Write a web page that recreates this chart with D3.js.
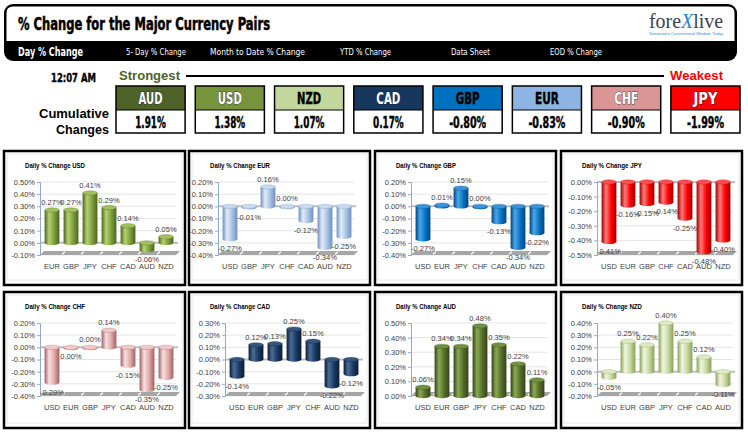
<!DOCTYPE html>
<html><head><meta charset="utf-8">
<script src="https://cdn.jsdelivr.net/npm/d3@7"></script>
<style>body{margin:0;background:#fff}svg{display:block}</style>
</head><body><svg id="c" width="748" height="434"></svg>
<script>
// ---------------- DATA ----------------
const pageTitle = "% Change for the Major Currency Pairs";
const navItems = ["Day % Change","5- Day % Change","Month to Date % Change","YTD % Change","Data Sheet","EOD % Change"];
const timeStamp = "12:07 AM";
const strengthCurrencies = ["AUD","USD","NZD","CAD","GBP","EUR","CHF","JPY"];
const cumulativeChanges = [1.91,1.38,1.07,0.17,-0.80,-0.83,-0.90,-1.99];

const panelBases = ["USD","EUR","GBP","JPY","CHF","CAD","AUD","NZD"];
const panelCategories = [
  ["EUR","GBP","JPY","CHF","CAD","AUD","NZD"],
  ["USD","GBP","JPY","CHF","CAD","AUD","NZD"],
  ["USD","EUR","JPY","CHF","CAD","AUD","NZD"],
  ["USD","EUR","GBP","CHF","CAD","AUD","NZD"],
  ["USD","EUR","GBP","JPY","CAD","AUD","NZD"],
  ["USD","EUR","GBP","JPY","CHF","AUD","NZD"],
  ["USD","EUR","GBP","JPY","CHF","CAD","NZD"],
  ["USD","EUR","GBP","JPY","CHF","CAD","AUD"]
];
const usdValues = [0.27,0.27,0.41,0.29,0.14,-0.06,0.05];
const eurValues = [-0.27,-0.01,0.16,0.00,-0.12,-0.34,-0.25];
const gbpValues = [-0.27,0.01,0.15,0.00,-0.13,-0.34,-0.22];
const jpyValues = [-0.41,-0.16,-0.15,-0.14,-0.25,-0.48,-0.40];
const chfValues = [-0.29,-0.001,0.00,0.14,-0.15,-0.35,-0.25];
const cadValues = [-0.14,0.12,0.13,0.25,0.15,-0.22,-0.12];
const audValues = [0.06,0.34,0.34,0.48,0.35,0.22,0.11];
const nzdValues = [-0.05,0.25,0.22,0.40,0.25,0.12,-0.11];
const panelValues = [usdValues,eurValues,gbpValues,jpyValues,chfValues,cadValues,audValues,nzdValues];
const tickMin = [-0.1,-0.4,-0.4,-0.5,-0.4,-0.3,0.0,-0.2];
const tickMax = [0.5,0.2,0.2,0.0,0.2,0.3,0.5,0.4];

// ---------------- STYLES / LAYOUT ----------------
const boxStyle = {
  AUD:{fill:"#4F6228",text:"#fff"}, USD:{fill:"#77933C",text:"#fff"},
  NZD:{fill:"#C3D69B",text:"#000"}, CAD:{fill:"#17375E",text:"#fff"},
  GBP:{fill:"#0070C0",text:"#000"}, EUR:{fill:"#8DB4E2",text:"#000"},
  CHF:{fill:"#D99694",text:"#fff"}, JPY:{fill:"#FF0000",text:"#fff"}
};
const barPalette = { // dark edge, highlight, mid, cap
  USD:["#4A6420","#B5D36E","#7F9F3E","#A3C060"],
  EUR:["#6F8FBF","#E2ECF8","#A8C2E4","#C9DAEF"],
  GBP:["#00467F","#4AA8EC","#0A72C0","#3C92D8"],
  JPY:["#A00000","#FF7A7A","#FF0000","#FF5050"],
  CHF:["#A06060","#F8E0E0","#E2AAAA","#EFC8C8"],
  CAD:["#0B1C33","#4A6C98","#1A3A63","#34557F"],
  AUD:["#33431A","#8AAA52","#566F2C","#73903F"],
  NZD:["#8AA05A","#F0F6E2","#C8DAA0","#DFEAC4"]
};
const panelLeft = [4,189,375,561];
const panelTop = [151,292];
const panelW = 181, panelH = [134,136];
const axisOffset = [36,29,36,36,36,36,36,36];
const condensed = "'Liberation Sans Narrow','DejaVu Sans Condensed','Roboto Condensed','Liberation Sans',sans-serif";
const sans = "'Liberation Sans','Arial',sans-serif";

const svg = d3.select("#c");
const defs = svg.append("defs");

// ---------------- HEADER ----------------
svg.append("rect").attr("x",4).attr("y",4).attr("width",733).attr("height",57).attr("rx",9).attr("fill","#000");
svg.append("path").attr("d","M6.5 41 V13 Q6.5 6.5 13 6.5 H728 Q734.5 6.5 734.5 13 V41 Z").attr("fill","#fff");
svg.append("text").attr("x",18).attr("y",29.5).text(pageTitle)
  .attr("font-family",condensed).attr("font-weight","bold").attr("font-size",17)
  .attr("stroke","#000").attr("stroke-width",0.5)
  .attr("textLength",252).attr("lengthAdjust","spacingAndGlyphs").attr("fill","#000");

const navX = [18,126,210,340,451,550], navW = [65,60,95,51,39,52];
svg.selectAll("text.nav").data(navItems).join("text").attr("class","nav")
  .attr("x",(d,i)=>navX[i]).attr("y",(d,i)=>i===0?55.5:54.5)
  .attr("font-family",condensed).attr("font-size",(d,i)=>i===0?11.5:9)
  .attr("font-weight",(d,i)=>i===0?"bold":"normal")
  .attr("textLength",(d,i)=>navW[i]).attr("lengthAdjust","spacingAndGlyphs")
  .attr("fill","#fff").text(d=>d);

// logo
const logo = svg.append("text").attr("x",649).attr("y",28).attr("font-family","'Liberation Serif','DejaVu Serif',serif")
  .attr("font-size",20).attr("fill","#3E3E4E").attr("textLength",74).attr("lengthAdjust","spacingAndGlyphs");
logo.append("tspan").text("fore");
logo.append("tspan").attr("fill","#1E88D0").attr("font-style","italic").text("X");
logo.append("tspan").text("live");
svg.append("text").attr("x",649).attr("y",35).attr("font-family",sans).attr("font-size",3.6)
  .attr("fill","#2E8FD6").attr("textLength",74).attr("lengthAdjust","spacingAndGlyphs")
  .text("Tomorrow's Conventional Wisdom Today");

// ---------------- STRENGTH ROW ----------------
svg.append("text").attr("x",51).attr("y",82).attr("font-family",condensed).attr("font-weight","bold")
  .attr("font-size",13).attr("stroke","#000").attr("stroke-width",0.4)
  .attr("textLength",45).attr("lengthAdjust","spacingAndGlyphs").text(timeStamp);
svg.append("text").attr("x",119).attr("y",79.5).attr("font-family",sans).attr("font-weight","bold")
  .attr("font-size",12.5).attr("fill","#4F6228").attr("textLength",61).attr("lengthAdjust","spacingAndGlyphs").text("Strongest");
svg.append("line").attr("x1",186).attr("x2",664).attr("y1",76).attr("y2",76).attr("stroke","#000").attr("stroke-width",2);
svg.append("text").attr("x",670).attr("y",79.5).attr("font-family",sans).attr("font-weight","bold")
  .attr("font-size",12.5).attr("fill","#FF0000").attr("textLength",53).attr("lengthAdjust","spacingAndGlyphs").text("Weakest");
svg.append("text").attr("x",109).attr("y",117.5).attr("text-anchor","end").attr("font-family",sans).attr("font-weight","bold")
  .attr("font-size",12.5).attr("textLength",70).attr("lengthAdjust","spacingAndGlyphs").text("Cumulative");
svg.append("text").attr("x",109).attr("y",133.5).attr("text-anchor","end").attr("font-family",sans).attr("font-weight","bold")
  .attr("font-size",12.5).attr("textLength",53).attr("lengthAdjust","spacingAndGlyphs").text("Changes");

const bx = d3.scaleBand().domain(strengthCurrencies).range([116,116+78*8]).paddingInner(10/78).paddingOuter(0);
const boxes = svg.selectAll("g.box").data(strengthCurrencies).join("g").attr("class","box")
  .attr("transform",d=>`translate(${bx(d)},86)`);
boxes.append("rect").attr("width",bx.bandwidth()).attr("height",24).attr("fill",d=>boxStyle[d].fill);
boxes.append("rect").attr("y",24).attr("width",bx.bandwidth()).attr("height",23).attr("fill","#fff");
boxes.append("rect").attr("width",bx.bandwidth()).attr("height",47).attr("fill","none").attr("stroke","#000").attr("stroke-width",1.5);
boxes.append("line").attr("x1",0).attr("x2",bx.bandwidth()).attr("y1",24).attr("y2",24).attr("stroke","#000").attr("stroke-width",1.2);
boxes.append("text").attr("x",bx.bandwidth()/2).attr("y",18).attr("text-anchor","middle")
  .attr("font-family",condensed).attr("font-weight","bold").attr("font-size",15)
  .attr("textLength",24).attr("lengthAdjust","spacingAndGlyphs")
  .attr("fill",d=>boxStyle[d].text)
  .attr("stroke",d=>boxStyle[d].text==="#fff"?"rgba(20,20,60,0.75)":"#000").attr("stroke-width",d=>boxStyle[d].text==="#fff"?0.9:0.4)
  .attr("paint-order","stroke").text(d=>d);
boxes.append("text").attr("x",bx.bandwidth()/2).attr("y",41.5).attr("text-anchor","middle")
  .attr("font-family",condensed).attr("font-weight","bold").attr("font-size",15).attr("fill","#000")
  .attr("stroke","#000").attr("stroke-width",0.4)
  .attr("textLength",(d,i)=>cumulativeChanges[i].toFixed(2).length*6.2+6).attr("lengthAdjust","spacingAndGlyphs")
  .text((d,i)=>cumulativeChanges[i].toFixed(2)+"%");

// ---------------- PANELS ----------------
function fmt(v){ const s = Math.abs(v)<0.005 ? "0.00" : v.toFixed(2); return s+"%"; }

panelBases.forEach((base,pi)=>{
  const col = pi%4, row = Math.floor(pi/4);
  const px = panelLeft[col], py = panelTop[row], ph = panelH[row];
  const g = svg.append("g").attr("transform",`translate(${px},${py})`);
  const cats = panelCategories[pi], vals = panelValues[pi];
  const ax = axisOffset[pi];
  const y = d3.scaleLinear().domain([tickMin[pi],tickMax[pi]]).range([104,31]);
  const x = d3.scaleBand().domain(cats).range([ax+2.5, ax+135.5]).paddingInner(0.22).paddingOuter(0.11);
  const ticks = d3.range(Math.round((tickMax[pi]-tickMin[pi])/0.1)+1).map(i=>+(tickMin[pi]+i*0.1).toFixed(2));
  const pal = barPalette[base];
  const gid = "grad"+pi;
  const lg = defs.append("linearGradient").attr("id",gid).attr("x1","0").attr("x2","1").attr("y1","0").attr("y2","0");
  [[0,pal[0]],[0.3,pal[1]],[0.65,pal[2]],[1,pal[0]]].forEach(s=>lg.append("stop").attr("offset",s[0]).attr("stop-color",s[1]));

  g.append("rect").attr("x",0).attr("y",0).attr("width",panelW).attr("height",ph).attr("fill","#fff");
  g.append("rect").attr("x",3).attr("y",3).attr("width",panelW-6).attr("height",ph-8).attr("fill","none").attr("stroke","#E3E3E3").attr("stroke-width",0.8);

  g.append("text").attr("x",21).attr("y",16.5).attr("font-family",sans).attr("font-weight","bold").attr("font-size",8)
    .attr("textLength",60).attr("lengthAdjust","spacingAndGlyphs").attr("fill","#000").text("Daily % Change "+base);

  // gridlines
  g.selectAll("line.grid").data(ticks).join("line").attr("class","grid")
    .attr("x1",ax).attr("x2",ax+136).attr("y1",d=>y(d)).attr("y2",d=>y(d)).attr("stroke","#DADADA").attr("stroke-width",0.7);

  // floor at bottom
  const yb = y(tickMin[pi]);
  g.append("path").attr("d",`M${ax},${yb} L${ax+136},${yb} L${ax+140},${yb-4} L${ax+4},${yb-4} Z`).attr("fill","#A6A6A6");
  x.domain().slice(1).forEach(c=>{
    const b = x(c) - x.step()*0.11;
    g.append("line").attr("x1",b+0.5).attr("x2",b+3.5).attr("y1",yb-0.8).attr("y2",yb-3.2).attr("stroke","#fff").attr("stroke-width",1.3);
  });
  // zero line
  const y0 = y(0);
  if (tickMin[pi] < 0) g.append("line").attr("x1",ax).attr("x2",ax+138).attr("y1",y0).attr("y2",y0).attr("stroke","#BFBFBF").attr("stroke-width",2);

  // axis
  const axis = d3.axisLeft(y).tickValues(ticks).tickFormat(fmt).tickSize(3).tickPadding(2);
  const ag = g.append("g").attr("transform",`translate(${ax},0)`).call(axis);
  ag.select(".domain").attr("stroke","#8EAADB").attr("stroke-width",1);
  ag.selectAll(".tick line").attr("stroke","#8EAADB");
  ag.selectAll(".tick text").attr("font-family",sans).attr("font-size",7.5).attr("fill","#404040");

  // bars
  const bw = x.bandwidth();
  cats.forEach((c,i)=>{
    const v = vals[i];
    const cx = x(c)+bw/2, yv = y(v);
    const top = Math.min(yv,y0), bot = Math.max(yv,y0);
    const h = Math.max(bot-top,0.8);
    g.append("ellipse").attr("cx",cx).attr("cy",top+h).attr("rx",bw/2).attr("ry",2.2).attr("fill",`url(#${gid})`);
    g.append("rect").attr("x",x(c)).attr("y",top).attr("width",bw).attr("height",h).attr("fill",`url(#${gid})`);
    g.append("ellipse").attr("cx",cx).attr("cy",top).attr("rx",bw/2).attr("ry",2.2).attr("fill",pal[3])
      .attr("stroke",pal[0]).attr("stroke-width",0.3);
    const neg = v < 0;
    g.append("text").attr("x",cx).attr("y",neg? bot+9.5 : top-7.5).attr("text-anchor","middle").attr("dominant-baseline","central")
      .attr("font-family",sans).attr("font-size",7.5).attr("fill","#404040").text(fmt(v));
  });

  // category labels
  g.selectAll("text.cat").data(cats).join("text").attr("class","cat")
    .attr("x",d=>x(d)+bw/2).attr("y",yb+11.5).attr("text-anchor","middle").attr("dominant-baseline","central")
    .attr("font-family",sans).attr("font-size",7.5).attr("fill","#404040").text(d=>d);

  // border
  g.append("rect").attr("x",0).attr("y",0).attr("width",panelW).attr("height",ph).attr("fill","none").attr("stroke","#000").attr("stroke-width",2.5);
});
</script></body></html>
